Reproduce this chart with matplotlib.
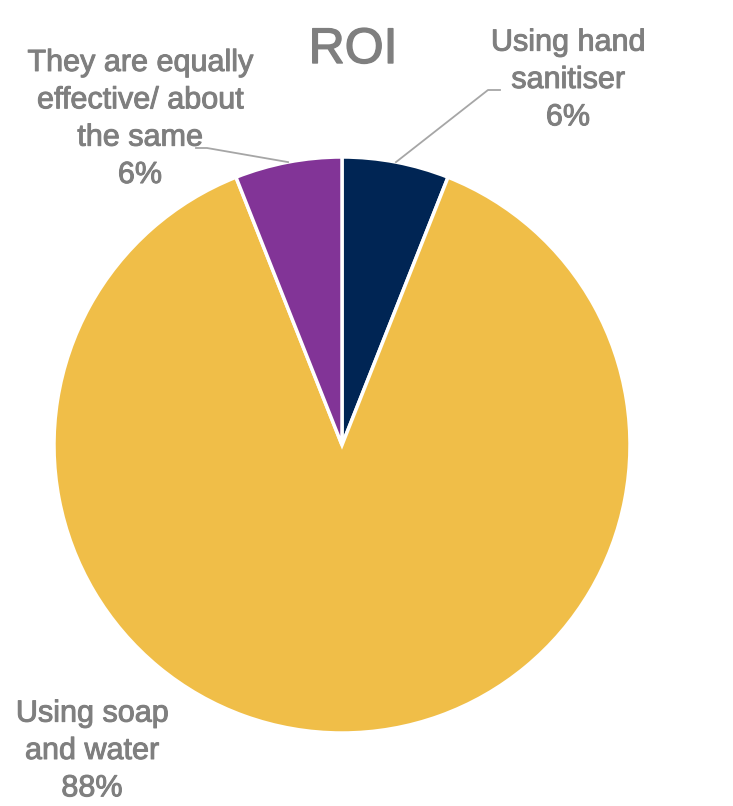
import numpy as np
import matplotlib.pyplot as plt
import matplotlib.patheffects as pe

labels = ['Using hand\nsanitiser', 'Using soap\nand water', 'They are equally\neffective/ about\nthe same']
values = [6, 88, 6]
colors = ['#002554', '#F0BE48', '#823497']

W, H = 733, 806
fig = plt.figure(figsize=(W / 100, H / 100), dpi=100)
ax = fig.add_axes([0, 0, 1, 1])

cx, cy, r = 342, H - 445, 288
wedges, _ = ax.pie(values, colors=colors, startangle=90, counterclock=False,
                   center=(cx, cy), radius=r, frame=True,
                   wedgeprops=dict(edgecolor='white', linewidth=2.5))
ax.set_xlim(0, W)
ax.set_ylim(0, H)
ax.set_aspect('equal')
ax.axis('off')

plt.rcParams['font.family'] = ['Liberation Sans', 'DejaVu Sans']
grey = '#7F7F7F'
thick = [pe.withStroke(linewidth=0.7, foreground=grey)]
ax.text(353, H - 50, 'ROI', fontsize=36, color=grey, ha='center', va='center',
        path_effects=[pe.withStroke(linewidth=1.0, foreground=grey)])

# label positions (centre of text block) and leader elbows
pos = [(568, H - 80), (92, H - 751), (140, H - 119)]
elbow = [[(488, H - 90), (500, H - 90)], None, [(207, H - 148), (196, H - 148)]]
for i, w in enumerate(wedges):
    txt = labels[i] + '\n%d%%' % values[i]
    ax.text(pos[i][0], pos[i][1], txt, fontsize=22, color=grey,
            ha='center', va='center', linespacing=1.32, path_effects=thick)
    if elbow[i] is not None:
        ang = np.deg2rad((w.theta1 + w.theta2) / 2)
        p0 = (cx + r * np.cos(ang), cy + r * np.sin(ang))
        xs = [p0[0]] + [e[0] for e in elbow[i]]
        ys = [p0[1]] + [e[1] for e in elbow[i]]
        ax.plot(xs, ys, color='#A6A6A6', lw=1.3)

fig.savefig('out.png', dpi=100)
